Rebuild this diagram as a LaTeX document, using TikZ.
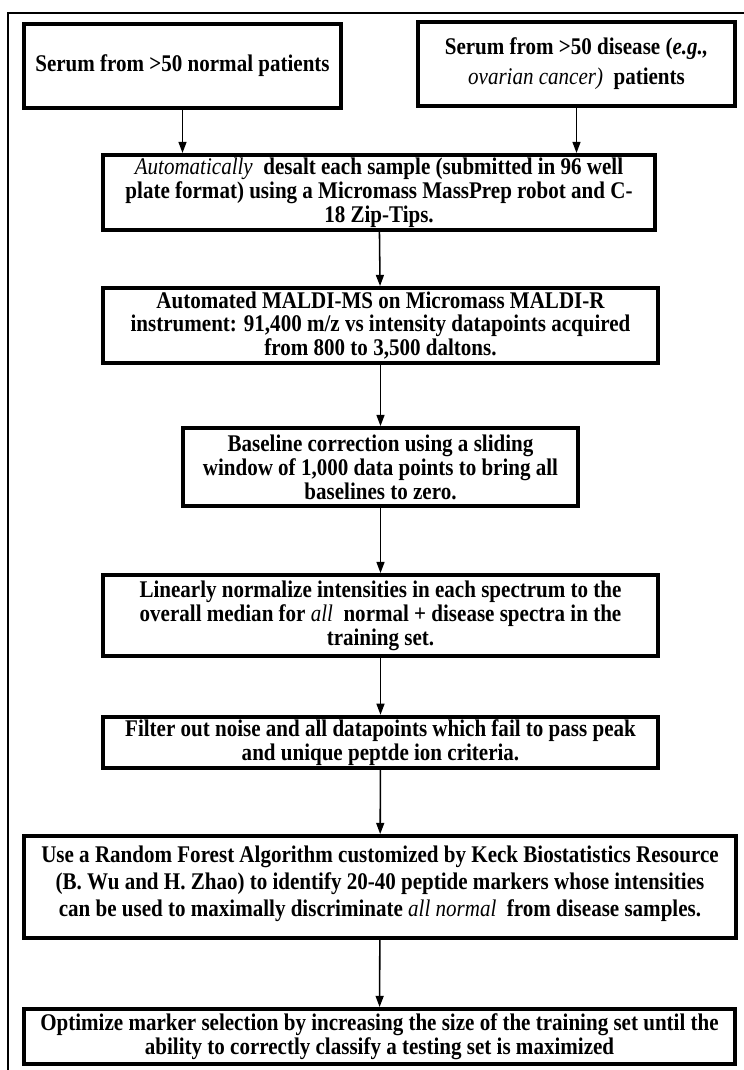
\documentclass[tikz,border=0pt]{standalone}
\usepackage{fontspec}
\setmainfont[FakeStretch=0.88]{Liberation Serif}
\newfontface\plainit[FakeStretch=0.88]{Liberation Serif Italic}
\usetikzlibrary{positioning,calc,arrows.meta}

\begin{document}
\begin{tikzpicture}[
    box/.style={draw, rectangle, line width=2.8pt, align=center, inner sep=2pt,
        font=\fontsize{17}{17}\selectfont\bfseries},
    flow/.style={-{Triangle[length=0.28cm, width=0.2cm]}, line width=1.1pt}
]
    \useasboundingbox (0, 0) rectangle (18.575, -26.75);

    % outer frame (right and bottom sides fall off the page)
    \draw[line width=1.4pt] (0.2, -27.5) -- (0.2, -0.325) -- (19.5, -0.325);

    % two kinds of serum
    \node[box, minimum width=7.925cm, minimum height=2.1cm] (normal) at (4.5625, -1.65) {Serum from >50 normal patients};
    \node[box, minimum width=7.925cm, minimum height=2.1cm, font=\fontsize{17}{21.5}\selectfont\bfseries] (disease) at (14.4125, -1.6)
        {Serum from >50 disease (\textit{e.g.,}\\{\plainit ovarian cancer)}\ \ patients};

    % processing steps
    \node[box, minimum width=13.8cm, minimum height=1.875cm] (desalt) at (9.475, -4.8125)
        {{\plainit Automatically}\ \ desalt each sample (submitted in 96 well\\plate format) using a Micromass MassPrep robot and C-\\18 Zip-Tips.};
    \node[box, minimum width=13.875cm, minimum height=1.875cm] (maldi) at (9.5125, -8.1375)
        {Automated MALDI-MS on Micromass MALDI-R\\instrument: 91,400 m/z vs intensity datapoints acquired\\from 800 to 3,500 daltons.};
    \node[box, minimum width=9.875cm, minimum height=1.95cm] (baseline) at (9.5125, -11.675)
        {Baseline correction using a sliding\\window of 1,000 data points to bring all\\baselines to zero.};
    \node[box, minimum width=13.875cm, minimum height=2.025cm] (normalize) at (9.5125, -15.3875)
        {Linearly normalize intensities in each spectrum to the\\overall median for {\plainit all}\ \ normal + disease spectra in the\\training set.};
    \node[box, minimum width=13.875cm, minimum height=1.275cm] (filter) at (9.5125, -18.5625)
        {Filter out noise and all datapoints which fail to pass peak\\and unique peptde ion criteria.};
    \node[box, minimum width=17.8cm, minimum height=2.55cm, font=\fontsize{17}{19.2}\selectfont\bfseries] (forest) at (9.5, -22.175)
        {Use a Random Forest Algorithm customized by Keck Biostatistics Resource\\(B. Wu and H. Zhao) to identify 20-40 peptide markers whose intensities\\can be used to maximally discriminate {\plainit all normal}\ \ from disease samples.\\[-11pt]{}};
    \node[box, minimum width=17.775cm, minimum height=1.375cm] (optimize) at (9.4875, -25.9125)
        {Optimize marker selection by increasing the size of the training set until the\\ability to correctly classify a testing set is maximized};

    % arrows
    \draw[flow] (normal.south) -- (normal.south |- desalt.north);
    \draw[flow] (disease.south) -- (disease.south |- desalt.north);
    \draw[flow] (desalt) -- (maldi);
    \draw[flow] (maldi) -- (baseline);
    \draw[flow] (baseline) -- (normalize);
    \draw[flow] (normalize) -- (filter);
    \draw[flow] (filter) -- (forest);
    \draw[flow] (forest) -- (optimize);
\end{tikzpicture}
\end{document}
